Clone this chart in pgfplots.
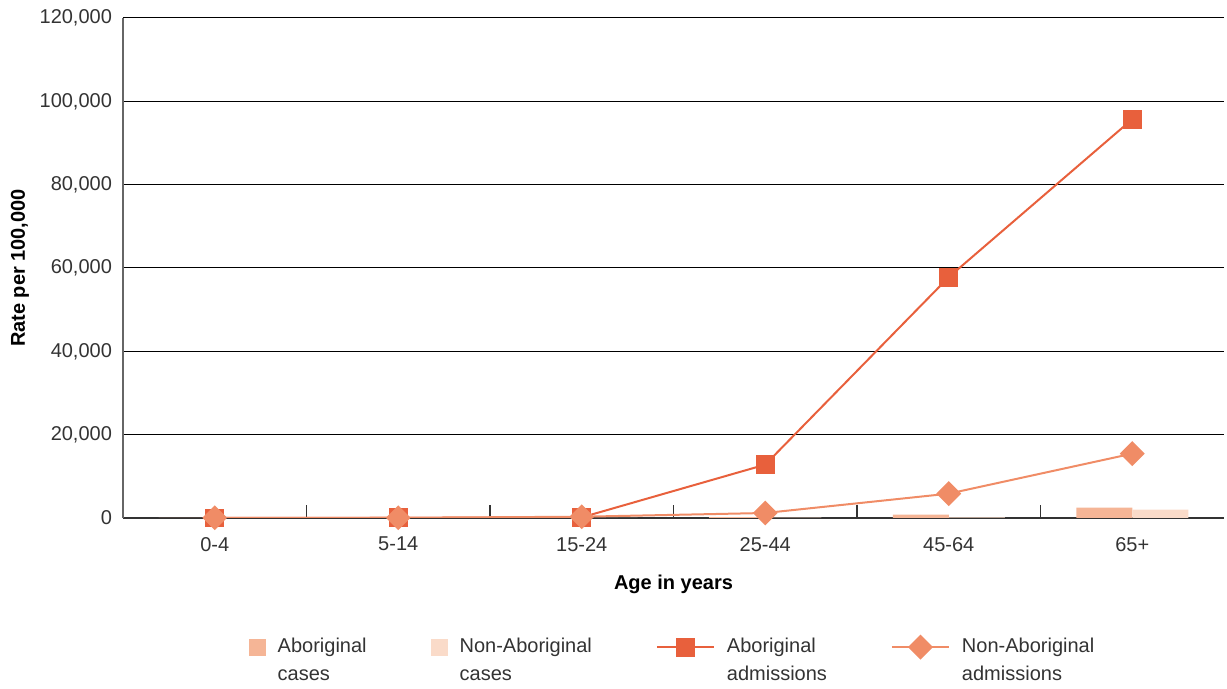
\documentclass[border=0pt]{standalone}
\usepackage{fontspec}
\setmainfont{Liberation Sans}
\usepackage{pgfplots}
\pgfplotsset{compat=1.18}
\definecolor{abadm}{HTML}{E8603C}
\definecolor{nonadm}{HTML}{F08C66}
\definecolor{abcase}{HTML}{F5B596}
\definecolor{noncase}{HTML}{FADBC9}
\definecolor{txt}{HTML}{333333}
\pgfplotsset{
  lineleg/.style={legend image code/.code={\draw[mark repeat=2,mark phase=2,##1] plot coordinates {(0pt,0pt) (14.25pt,0pt) (28.5pt,0pt)};}},
  boxleg/.style={legend image code/.code={\fill[##1, draw=none] (0pt,-4.25pt) rectangle (8.5pt,4.25pt);}},
}
\begin{document}
\begin{tikzpicture}
\begin{axis}[
  scale only axis, width=550.5pt, height=250pt,
  xmin=-0.5, xmax=5.5, ymin=0, ymax=120000,
  axis x line*=bottom, axis y line*=left,
  x axis line style={draw=txt, line width=1pt},
  y axis line style={draw=gray!80!black, line width=0.6pt},
  xtick={0,...,5}, xticklabels={0-4,5-14,15-24,25-44,45-64,65+},
  minor xtick={0.5,1.5,2.5,3.5,4.5},
  major x tick style={draw=none},
  minor x tick style={draw=txt, line width=0.6pt},
  minor tick length=6.5pt,
  tick align=inside,
  ytick={0,20000,40000,60000,80000,100000,120000},
  major y tick style={draw=none},
  ymajorgrids, grid style={black, line width=0.5pt},
  scaled y ticks=false,
  /pgf/number format/fixed,
  /pgf/number format/1000 sep={,},
  /pgf/number format/assume math mode=true,
  tick label style={font=\fontsize{10}{12}\selectfont, text=txt},
  xticklabel style={yshift=-6pt},
  yticklabel style={xshift=-2pt},
  xlabel={\textbf{Age in years}},
  ylabel={\textbf{Rate per 100,000}},
  label style={font=\fontsize{10}{12}\selectfont, text=black},
  xlabel style={yshift=-5pt},
  ylabel style={yshift=-1.5pt},
  legend style={draw=none, fill=none, at={(0.5,0)}, anchor=north, yshift=-56pt,
    font=\fontsize{10}{14}\selectfont, text=txt,
    /tikz/every odd column/.append style={column sep=4pt},
    /tikz/every even column/.append style={column sep=30pt}},
  legend columns=4, legend cell align=left,
]
\addplot[ybar, bar width=28pt, bar shift=-14pt, fill=abcase, draw=none, boxleg]
  coordinates {(0,20) (1,20) (2,60) (3,180) (4,800) (5,2480)};
\addlegendentry{\vtop{\hbox{Aboriginal}\hbox{cases}}}
\addplot[ybar, bar width=28pt, bar shift=14pt, fill=noncase, draw=none, boxleg]
  coordinates {(0,10) (1,10) (2,20) (3,60) (4,150) (5,2000)};
\addlegendentry{\vtop{\hbox{Non-Aboriginal}\hbox{cases}}}
\addplot[abadm, line width=1pt, mark=square*, mark size=4.2pt, mark options={solid, fill=abadm, draw=none}, lineleg]
  coordinates {(0,20) (1,30) (2,150) (3,12800) (4,57800) (5,95700)};
\addlegendentry{\vtop{\hbox{Aboriginal}\hbox{admissions}}}
\addplot[nonadm, line width=1pt, mark=square*, mark size=3.9pt, mark options={solid, fill=nonadm, draw=none, rotate=45}, lineleg]
  coordinates {(0,50) (1,60) (2,300) (3,1200) (4,5840) (5,15440)};
\addlegendentry{\vtop{\hbox{Non-Aboriginal}\hbox{admissions}}}
\end{axis}
\pgfresetboundingbox
\path (-61.5pt,-85.5pt) rectangle (552pt,259pt);
\end{tikzpicture}
\end{document}
